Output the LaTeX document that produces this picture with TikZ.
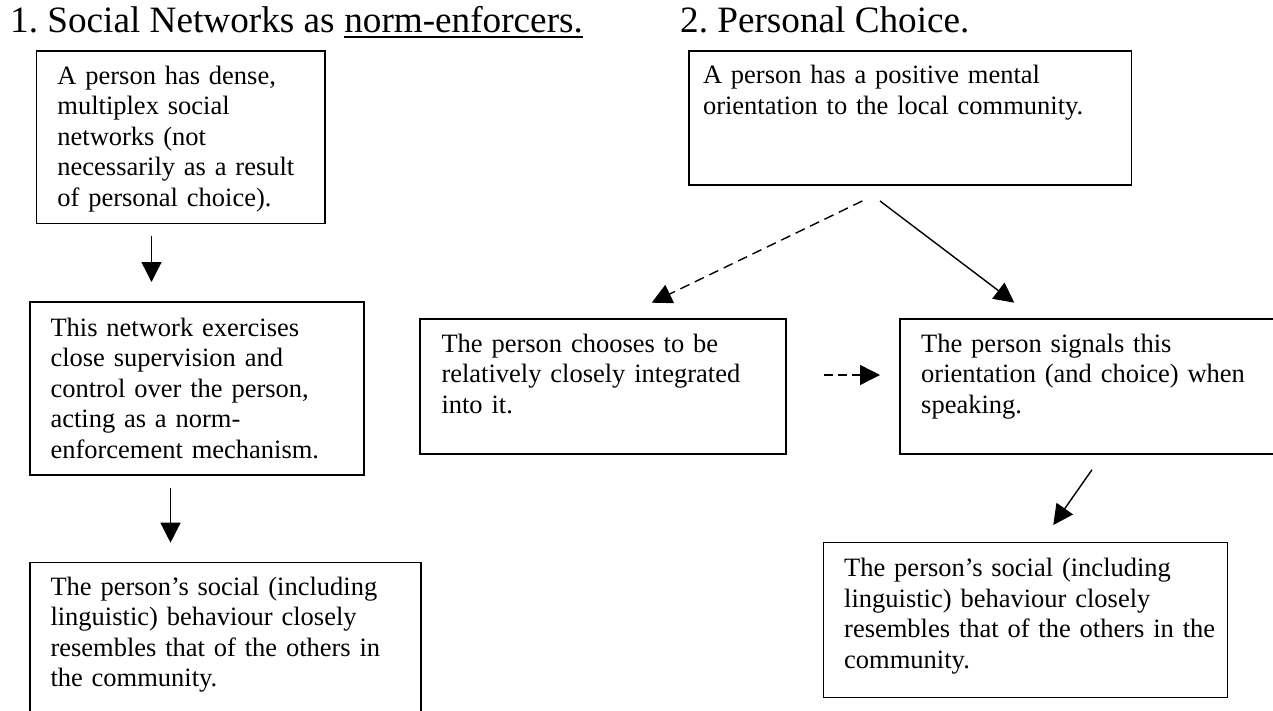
\documentclass[tikz,border=0pt]{standalone}
\usepackage{fontspec}
\setmainfont{Liberation Serif}
\usetikzlibrary{arrows.meta,calc}
\frenchspacing

\tikzset{
  heading/.style={inner sep=0pt, anchor=base west, font=\fontsize{37.2pt}{42pt}\selectfont},
  panel/.style={draw, line width=1.7pt, anchor=north west, inner sep=0pt},
  body/.style={inner sep=0pt, anchor=base west, align=left, text width=440pt,
    font=\fontsize{26.5pt}{30.5pt}\selectfont},
  link/.style={line width=1.4pt, -{Triangle[length=20pt,width=20pt]}},
  dashlink/.style={link, dash pattern=on 10pt off 6pt},
  shortdash/.style={link, dash pattern=on 9pt off 5pt},
  underrule/.style={line width=1.6pt},
}

\begin{document}
\begin{tikzpicture}[x=1pt, y=-1pt]
\useasboundingbox (0,0) rectangle (1273,711);
\fill[white] (0,0) rectangle (1273,711);
\clip (0,0) rectangle (1273,711);

% headings
\node[heading] (h1) at (10,33) {1. Social Networks as};
\node[heading] (h1u) at ($(h1.base east)+(9.3,0)$) {norm-enforcers.};
\draw[underrule] ($(h1u.base west)+(0,4)$) -- ($(h1u.base east)+(0,4)$);
\node[heading] (h2) at (680,33) {2. Personal Choice.};

% left column: networks as norm-enforcers
\node[panel, minimum width=288.3pt, minimum height=172.7pt] (A) at (35.7,50) {};
\node[body] (Atext) at ($(A.north west)+(21.5,34.5)$)
  {A person has dense,\\ multiplex social\\ networks (not\\ necessarily as a result\\ of personal choice).};

\node[panel, minimum width=334pt, minimum height=173pt] (B) at (29.3,301) {};
\node[body] (Btext) at ($(B.north west)+(21,35)$)
  {This network exercises\\ close supervision and\\ control over the person,\\ acting as a norm-\\ enforcement mechanism.};

\node[panel, minimum width=391pt, minimum height=175pt] (C) at (29.3,561.7) {};
\node[body] (Ctext) at ($(C.north west)+(21,33.5)$)
  {The person’s social (including\\ linguistic) behaviour closely\\ resembles that of the others in\\ the community.};

% right column: personal choice
\node[panel, minimum width=442.4pt, minimum height=134.3pt] (D) at (688.3,50) {};
\node[body] (Dtext) at ($(D.north west)+(14.5,34)$)
  {A person has a positive mental\\ orientation to the local community.};

\node[panel, minimum width=366pt, minimum height=135pt] (E) at (419.3,318.3) {};
\node[body] (Etext) at ($(E.north west)+(22,33.7)$)
  {The person chooses to be\\ relatively closely integrated\\ into it.};

\node[panel, minimum width=400pt, minimum height=135pt] (F) at (899.3,318.3) {};
\node[body] (Ftext) at ($(F.north west)+(21.7,33.7)$)
  {The person signals this\\ orientation (and choice) when\\ speaking.};

\node[panel, minimum width=404pt, minimum height=155pt] (G) at (822.7,541.7) {};
\node[body] (Gtext) at ($(G.north west)+(21.3,35)$)
  {The person’s social (including\\ linguistic) behaviour closely\\ resembles that of the others in the\\ community.};

% connectors
\draw[link] ($(A.south west)+(115.8,11.3)$) -- ($(B.north west)+(122.2,-19)$);
\draw[link] ($(B.south west)+(141.2,12)$) -- ($(C.north west)+(141.2,-19)$);
\draw[dashlink] ($(D.south west)+(174,15)$) -- ($(E.north west)+(232.4,-15.6)$);
\draw[link] ($(D.south west)+(191.7,15)$) -- ($(F.north west)+(115,-15.6)$);
\draw[shortdash] ($(E.north east)+(37.4,56.7)$) -- ($(F.north west)+(-19.3,56.7)$);
\draw[link] ($(F.south west)+(192.7,14.7)$) -- ($(G.north west)+(230.6,-16.7)$);
\end{tikzpicture}
\end{document}
